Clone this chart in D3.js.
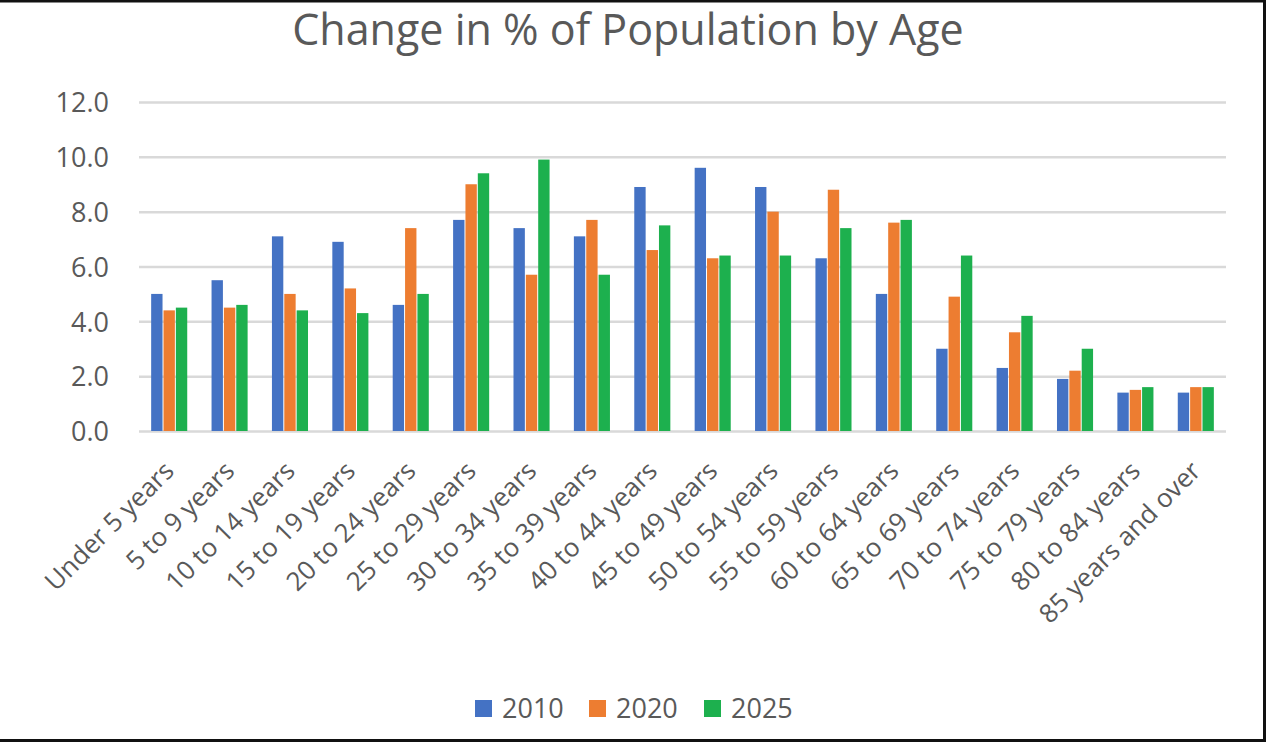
<!DOCTYPE html>
<html>
<head>
<meta charset="utf-8">
<script src="https://cdn.jsdelivr.net/npm/d3@7"></script>
<style>
  body { margin: 0; background: #ffffff; }
  svg { display: block; }
</style>
</head>
<body>
<div id="chart"></div>
<script>
// Change in % of Population by Age - grouped bar chart

var ageGroups = ["Under 5 years", "5 to 9 years", "10 to 14 years", "15 to 19 years",
  "20 to 24 years", "25 to 29 years", "30 to 34 years", "35 to 39 years",
  "40 to 44 years", "45 to 49 years", "50 to 54 years", "55 to 59 years",
  "60 to 64 years", "65 to 69 years", "70 to 74 years", "75 to 79 years",
  "80 to 84 years", "85 years and over"];

var years = ["2010", "2020", "2025"];

var values2010 = [5.0, 5.5, 7.1, 6.9, 4.6, 7.7, 7.4, 7.1, 8.9, 9.6, 8.9, 6.3, 5.0, 3.0, 2.3, 1.9, 1.4, 1.4];
var values2020 = [4.4, 4.5, 5.0, 5.2, 7.4, 9.0, 5.7, 7.7, 6.6, 6.3, 8.0, 8.8, 7.6, 4.9, 3.6, 2.2, 1.5, 1.6];
var values2025 = [4.5, 4.6, 4.4, 4.3, 5.0, 9.4, 9.9, 5.7, 7.5, 6.4, 6.4, 7.4, 7.7, 6.4, 4.2, 3.0, 1.6, 1.6];

var yTicks = [0, 2, 4, 6, 8, 10, 12];

var seriesColors = ["#4472C4", "#ED7D31", "#1DB04E"];

var W = 1266, H = 744;
var margin = { top: 102, left: 139, right: 40, bottom: 313 };
var width = W - margin.left - margin.right;
var height = H - margin.top - margin.bottom;

var textColor = "#595959";
var fontFamily = "'Open Sans', 'DejaVu Sans', sans-serif";

var svg = d3.select("#chart").append("svg")
    .attr("width", W)
    .attr("height", H);

svg.append("rect")
    .attr("width", W)
    .attr("height", H)
    .style("fill", "#ffffff");

// frame (top, right, bottom)
svg.append("path")
    .attr("d", "M0,1H1264.5V740.5H0")
    .style("fill", "none")
    .style("stroke", "#111111")
    .style("stroke-width", 3);

var g = svg.append("g")
    .attr("transform", "translate(" + margin.left + "," + margin.top + ")");

var x0 = d3.scaleBand()
    .domain(ageGroups)
    .range([0, width])
    .paddingInner(0.37)
    .paddingOuter(0.185);

var x1 = d3.scaleBand()
    .domain(years)
    .range([0, x0.bandwidth()])
    .padding(0.08);

var y = d3.scaleLinear()
    .domain([0, 12])
    .range([height, 0]);

var color = d3.scaleOrdinal()
    .domain(years)
    .range(seriesColors);

var yAxis = d3.axisLeft(y)
    .tickValues(yTicks)
    .tickSize(-width)
    .tickFormat(d3.format(".1f"));

g.append("g")
    .attr("class", "y axis")
    .call(yAxis)
    .call(function(s) {
      s.select(".domain").remove();
      s.selectAll(".tick line").attr("stroke", "#d9d9d9").attr("stroke-width", 2.5);
      s.selectAll(".tick text")
        .attr("x", -30)
        .attr("dy", "0.36em")
        .style("fill", textColor)
        .style("font-family", fontFamily)
        .style("font-size", "27px");
    });

var table = ageGroups.map(function(a, i) {
  return { age: a, values: [values2010[i], values2020[i], values2025[i]] };
});

var groups = g.selectAll(".group")
  .data(table)
  .enter().append("g")
    .attr("class", "group")
    .attr("transform", function(d) { return "translate(" + x0(d.age) + ",0)"; });

groups.selectAll("rect")
  .data(function(d) { return d.values.map(function(v, k) { return { year: years[k], value: v }; }); })
  .enter().append("rect")
    .attr("x", function(d) { return x1(d.year); })
    .attr("y", function(d) { return y(d.value); })
    .attr("width", x1.bandwidth())
    .attr("height", function(d) { return y(0) - y(d.value); })
    .style("fill", function(d) { return color(d.year); });

// rotated category labels
var xAxis = d3.axisBottom(x0)
    .tickSize(0)
    .tickSizeOuter(0);

g.append("g")
    .attr("class", "x axis")
    .attr("transform", "translate(0," + height + ")")
    .call(xAxis)
    .call(function(s) {
      s.select(".domain").remove();
      s.selectAll(".tick text")
        .attr("x", 0)
        .attr("y", 0)
        .attr("dy", "0.35em")
        .attr("transform", "translate(0,35) rotate(-45)")
        .style("text-anchor", "end")
        .style("fill", textColor)
        .style("font-family", fontFamily)
        .style("font-size", "26px");
    });

// title
svg.append("text")
    .attr("x", 628)
    .attr("y", 45)
    .style("text-anchor", "middle")
    .style("fill", textColor)
    .style("font-family", fontFamily)
    .style("font-size", "43px")
    .text("Change in % of Population by Age");

// legend
var legendX = [475, 589, 704];

var legend = svg.append("g")
    .attr("class", "legend")
    .selectAll("g")
    .data(years)
    .enter().append("g")
    .attr("transform", function(d, i) { return "translate(" + legendX[i] + ",700)"; });

legend.append("rect")
    .attr("width", 17)
    .attr("height", 17)
    .style("fill", color);

legend.append("text")
    .attr("x", 27)
    .attr("y", 18)
    .style("fill", textColor)
    .style("font-family", fontFamily)
    .style("font-size", "27px")
    .text(function(d) { return d; });
</script>
</body>
</html>
